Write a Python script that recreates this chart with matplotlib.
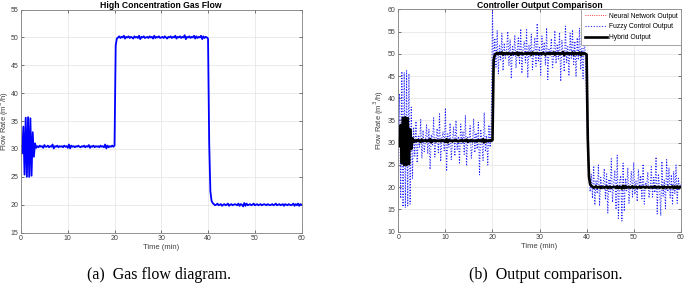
#!/usr/bin/env python3

import matplotlib.pyplot as plt
import numpy as np

plt.rcParams['font.family'] = ['Liberation Sans', 'DejaVu Sans']

# The gas flow curve (a) and the hybrid output (b) are the same trace.
flow_burst = [30.6, 29.2, 34.0, 25.4, 35.6, 25.0, 35.7, 25.0, 35.5, 25.2,
              33.0, 28.6, 31.0, 30.2]
flow_low = [30.5, 30.3, 30.6, 30.4, 30.5, 30.2, 30.7, 30.4, 30.4, 30.6,
            30.3, 30.5, 30.4, 30.8, 30.1, 30.5, 30.4, 30.6, 30.3, 30.5,
            30.4, 30.5, 30.3, 30.6, 30.4, 30.5, 30.2, 30.8, 30.1, 30.6,
            30.4, 30.5, 30.3, 30.5, 30.4, 30.6, 30.4, 30.3, 30.5, 30.4,
            30.6, 30.3, 30.5, 30.4, 30.7, 30.2, 30.5, 30.4, 30.6, 30.3,
            30.5, 30.4, 30.5, 30.3, 30.6, 30.4, 30.5, 30.3, 30.8, 30.1,
            30.6, 30.3, 30.5, 30.4, 30.6, 30.4]
flow_rise = [30.6, 48.6, 49.8]
flow_high = [50.0, 50.2, 49.9, 50.1, 50.0, 50.3, 49.8, 50.1, 50.0, 50.2,
             49.9, 50.1, 50.0, 49.8, 50.2, 50.0, 50.1, 49.9, 50.3, 49.7,
             50.1, 50.0, 50.2, 49.9, 50.0, 50.1, 49.9, 50.2, 50.0, 50.1,
             49.8, 50.3, 49.9, 50.1, 50.0, 50.2, 49.9, 50.0, 50.1, 49.9,
             50.2, 50.0, 49.8, 50.1, 50.0, 50.2, 49.9, 50.1, 50.0, 50.3,
             49.8, 50.1, 50.0, 50.2, 49.9, 50.1, 50.0, 50.4, 49.7, 50.1,
             50.0, 50.2, 49.9, 50.1, 50.0, 50.3, 49.8, 50.2, 49.9, 50.1,
             50.0, 50.3, 49.7, 50.2, 49.9, 50.1, 50.0]
flow_fall = [49.8, 31.0, 22.4, 20.7, 20.3]
flow_tail = [20.1, 19.9, 20.0, 20.2, 19.9, 20.0, 20.1, 19.8, 20.0, 20.1,
             19.9, 20.0, 20.2, 19.8, 20.0, 20.1, 19.9, 20.0, 20.1, 20.0,
             19.9, 20.2, 19.8, 20.1, 20.0, 19.7, 20.3, 19.8, 20.2, 19.9,
             20.0, 20.1, 19.9, 20.0, 20.2, 19.9, 20.0, 20.1, 19.9, 20.0,
             20.1, 19.9, 20.0, 20.1, 20.0, 19.9, 20.1, 20.0, 19.9, 20.0,
             20.1, 19.9, 20.0, 20.2, 19.9, 20.0, 20.1, 19.9, 20.0, 20.1,
             19.8, 20.1, 20.0, 19.9, 20.1, 20.0, 19.9, 20.0, 20.2, 19.8,
             20.1, 19.9, 20.2, 19.8, 20.1, 20.0]
gas_flow = flow_burst + flow_low + flow_rise + flow_high + flow_fall + flow_tail

# Fuzzy control output, same time grid
fuzzy_burst = [30.5, 41.0, 17.5, 46.0, 15.6, 45.8, 15.4, 46.2, 15.8, 45.5,
               16.2, 38.0, 22.0]
fuzzy_low = [33.5, 27.0, 34.8, 25.5, 31.5, 29.0, 35.2, 26.5, 32.8, 28.0,
             30.2, 34.0, 27.5, 33.0, 24.0, 31.8, 29.5, 35.6, 26.8, 30.8,
             33.2, 27.8, 36.5, 25.8, 31.0, 32.5, 28.2, 37.8, 23.6, 32.0,
             29.0, 34.4, 26.2, 30.5, 33.6, 27.0, 35.0, 28.5, 31.4, 25.2,
             34.2, 29.8, 32.6, 27.4, 36.2, 24.8, 31.2, 30.0, 33.8, 26.5,
             29.5, 35.4, 27.8, 32.2, 28.6, 34.6, 22.8, 33.0, 30.4, 26.0,
             36.8, 28.0, 31.6, 25.0, 34.0, 29.0, 35.0]
fuzzy_rise = [59.8, 46.0]
fuzzy_high = [53.5, 47.0, 55.2, 45.5, 51.8, 48.6, 54.6, 46.2, 52.4, 49.0,
              50.8, 55.0, 47.4, 53.2, 44.4, 51.6, 49.4, 54.2, 46.8, 50.6,
              53.8, 47.6, 55.6, 45.6, 51.2, 52.8, 48.0, 55.4, 44.6, 52.0,
              49.2, 54.4, 46.4, 50.4, 53.6, 47.2, 56.8, 48.4, 51.4, 45.2,
              54.0, 49.8, 52.6, 47.4, 55.8, 44.2, 51.0, 50.2, 53.4, 46.6,
              49.6, 55.2, 47.8, 52.2, 48.8, 54.8, 43.8, 53.0, 50.0, 46.0,
              56.2, 48.0, 51.6, 45.0, 54.6, 49.0, 55.4, 47.6, 52.8, 44.8,
              53.6, 48.6, 55.8, 46.4, 51.2, 44.4, 53.8, 49.2]
fuzzy_fall = [37.0, 28.0, 22.5, 19.0]
fuzzy_tail = [23.0, 17.5, 24.8, 16.0, 21.6, 18.6, 25.0, 15.8, 22.2, 19.4,
              20.6, 24.2, 17.2, 23.0, 14.2, 21.8, 19.0, 26.4, 16.6, 20.8,
              23.8, 15.0, 27.2, 13.0, 21.2, 22.6, 12.4, 25.4, 14.6, 22.0,
              19.2, 24.4, 16.4, 20.4, 23.6, 17.8, 25.6, 18.4, 21.4, 16.8,
              24.0, 19.8, 22.6, 17.4, 25.2, 16.2, 21.0, 20.2, 23.4, 17.6,
              19.6, 24.6, 17.8, 22.2, 18.8, 26.8, 14.0, 23.0, 20.0, 13.6,
              25.8, 18.0, 21.6, 15.2, 26.2, 19.0, 24.4, 17.6, 22.8, 16.0,
              23.6, 18.6, 25.0, 16.4, 22.0, 19.4, 21.0]
fuzzy_out = fuzzy_burst + fuzzy_low + fuzzy_rise + fuzzy_high + fuzzy_fall + fuzzy_tail

time = np.arange(0, 60.001, 0.25)
assert len(gas_flow) == len(time) and len(fuzzy_out) == len(time)

grey = '#404040'


def style(ax, ylim, yticks, ylab_x):
    ax.set_xlim(0, 60)
    ax.set_ylim(*ylim)
    ax.set_xticks(range(0, 61, 10))
    ax.set_yticks(yticks)
    ax.grid(True, color='#e3e3e3', lw=0.5)
    ax.set_axisbelow(True)
    ax.tick_params(direction='in', top=True, right=True, length=2, width=0.5,
                   labelsize=5, colors=grey, pad=2)
    for s in ax.spines.values():
        s.set_color('#808080')
        s.set_linewidth(0.6)
    ax.set_xlabel('Time (min)', fontsize=5.5, color=grey, labelpad=1)
    ax.set_ylabel('Flow Rate (m$^3$/h)', fontsize=5.5, color=grey)
    ax.yaxis.set_label_coords(ylab_x, 0.5)


fig = plt.figure(figsize=(6.85, 2.9), dpi=100)

ax1 = fig.add_axes([0.0307, 0.198, 0.4095, 0.769])
ax1.plot(time, gas_flow, color='#0000ff', lw=1.3)
style(ax1, (15, 55), range(15, 56, 5), -0.037)
ax1.set_title('High Concentration Gas Flow', fontsize=6.2, fontweight='bold', pad=1)

ax2 = fig.add_axes([0.5815, 0.201, 0.4123, 0.767])
ax2.plot(time, gas_flow, color='red', ls=':', lw=0.6, label='Neural Network Output')
ax2.plot(time, fuzzy_out, color='#2020ff', ls=':', lw=0.75, label='Fuzzy Control Output')
ax2.plot(time, gas_flow, color='black', lw=1.9, label='Hybrid Output')
style(ax2, (10, 60), range(10, 61, 5), -0.044)
ax2.set_title('Controller Output Comparison', fontsize=6.2, fontweight='bold', pad=1)
leg = ax2.legend(loc='upper right', fontsize=4.9, fancybox=False, borderaxespad=0,
                 handlelength=3.2, handletextpad=0.3, framealpha=1,
                 edgecolor='#808080', borderpad=0.5, labelspacing=0.55)
leg.get_frame().set_linewidth(0.5)

fig.text(0.232, 0.052, '(a)  Gas flow diagram.', ha='center', va='center',
         fontsize=11.5, family='Liberation Serif')
fig.text(0.797, 0.052, '(b)  Output comparison.', ha='center', va='center',
         fontsize=11.5, family='Liberation Serif')

fig.savefig('out.png', dpi=100)
